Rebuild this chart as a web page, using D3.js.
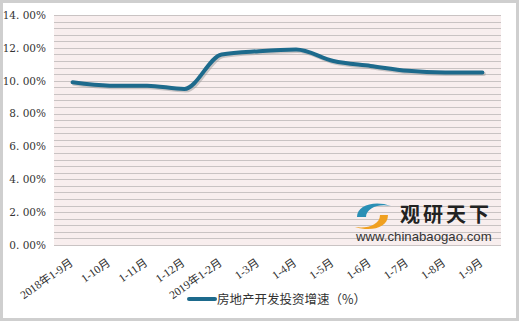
<!DOCTYPE html>
<html>
<head>
<meta charset="utf-8">
<script src="https://cdn.jsdelivr.net/npm/d3@7"></script>
<style>
  body { margin: 0; background: #fff; }
  svg { display: block; }
</style>
</head>
<body>
<div class="chart"></div>
<script>
// categories on the x axis
const categories = ["2018年1-9月", "1-10月", "1-11月", "1-12月", "2019年1-2月", "1-3月",
  "1-4月", "1-5月", "1-6月", "1-7月", "1-8月", "1-9月"];
// 房地产开发投资增速 (%)
const growth = [9.9, 9.7, 9.7, 9.5, 11.6, 11.8, 11.9, 11.2, 10.9, 10.6, 10.5, 10.5];
const yTicks = [0, 2, 4, 6, 8, 10, 12, 14];
const seriesName = "房地产开发投资增速（%）";

const width = 520, height = 323;
const margin = { top: 15, right: 19, bottom: 78, left: 54 };
const plotW = width - margin.left - margin.right;
const plotH = height - margin.top - margin.bottom;

const svg = d3.select(".chart").append("svg")
  .attr("width", width).attr("height", height);

// outer frame
svg.append("rect").attr("x", 1.5).attr("y", 1.5)
  .attr("width", width - 4).attr("height", height - 5)
  .attr("fill", "#fff").attr("stroke", "#cfcfcf").attr("stroke-width", 3);

const g = svg.append("g").attr("transform", `translate(${margin.left},${margin.top})`);

const x = d3.scaleBand().domain(categories).range([0, plotW]);
const y = d3.scaleLinear().domain([0, 14]).range([plotH, 0]);

// plot background
g.append("rect").attr("width", plotW).attr("height", plotH).attr("fill", "#f8eeee");

// gridlines every 0.4%
const grid = d3.range(0, 14.001, 0.4);
g.append("g").selectAll("line").data(grid).join("line")
  .attr("x1", 0).attr("x2", plotW)
  .attr("y1", d => Math.round(y(d)) + 0.5).attr("y2", d => Math.round(y(d)) + 0.5)
  .attr("stroke", "#c9c3c3").attr("stroke-width", 1.2);

// y axis labels
const yAxis = g.append("g")
  .call(d3.axisLeft(y).tickValues(yTicks).tickSize(0).tickPadding(8)
    .tickFormat(d => d3.format(".2f")(d).replace(".", ". ") + "%"));
yAxis.select(".domain").remove();
yAxis.selectAll("text").attr("font-family", "'DejaVu Serif', serif")
  .attr("font-size", 10.5).attr("fill", "#333");

// x axis labels
const xAxis = g.append("g").attr("transform", `translate(0,${plotH})`)
  .call(d3.axisBottom(x).tickSize(0));
xAxis.select(".domain").remove();
xAxis.selectAll("text")
  .attr("font-family", "'Liberation Serif', 'Noto Sans CJK SC', serif")
  .attr("font-size", 11.5).attr("fill", "#333")
  .attr("text-anchor", "end")
  .attr("x", 0).attr("y", 0).attr("dy", "0.35em")
  .attr("transform", "translate(-1,16) rotate(-35)");

// watermark
const wm = g.append("g").attr("transform", `translate(${plotW - 146},${plotH - 44})`);
wm.append("path").attr("d", "M2,16 C2,4 20,-1 36,5 C24,2 11,7 11,16 Z").attr("fill", "#2a8fb5");
wm.append("path").attr("d", "M33,14 C33,27 16,31 0,26 C12,28 25,24 25,14 Z").attr("fill", "#f0a020");
wm.append("text").attr("x", 45).attr("y", 21)
  .attr("font-family", "'Noto Sans CJK SC', sans-serif").attr("font-weight", "bold")
  .attr("font-size", 20).attr("fill", "#222").attr("letter-spacing", 3).text("观研天下");
wm.append("text").attr("x", 1).attr("y", 40)
  .attr("font-family", "'Liberation Sans', sans-serif")
  .attr("font-size", 13.2).attr("fill", "#333").text("www.chinabaogao.com");

// line
const line = d3.line()
  .x((d, i) => x(categories[i]) + x.bandwidth() / 2)
  .y(d => y(d))
  .curve(d3.curveMonotoneX);

g.append("path").datum(growth)
  .attr("fill", "none").attr("stroke", "#999").attr("stroke-opacity", 0.5)
  .attr("stroke-width", 4).attr("stroke-linecap", "round")
  .attr("transform", "translate(1.5,1.5)")
  .attr("d", line);
g.append("path").datum(growth)
  .attr("fill", "none").attr("stroke", "#1d6a8c")
  .attr("stroke-width", 4).attr("stroke-linecap", "round")
  .attr("d", line);

// legend
const lg = svg.append("g").attr("transform", "translate(189,299)");
lg.append("line").attr("x1", 0).attr("x2", 26).attr("y1", 0).attr("y2", 0)
  .attr("stroke", "#1d6a8c").attr("stroke-width", 4).attr("stroke-linecap", "round");
lg.append("text").attr("x", 28).attr("y", 4.5)
  .attr("font-family", "'Noto Sans CJK SC', sans-serif")
  .attr("font-size", 12.5).attr("fill", "#333").text(seriesName);
</script>
</body>
</html>
